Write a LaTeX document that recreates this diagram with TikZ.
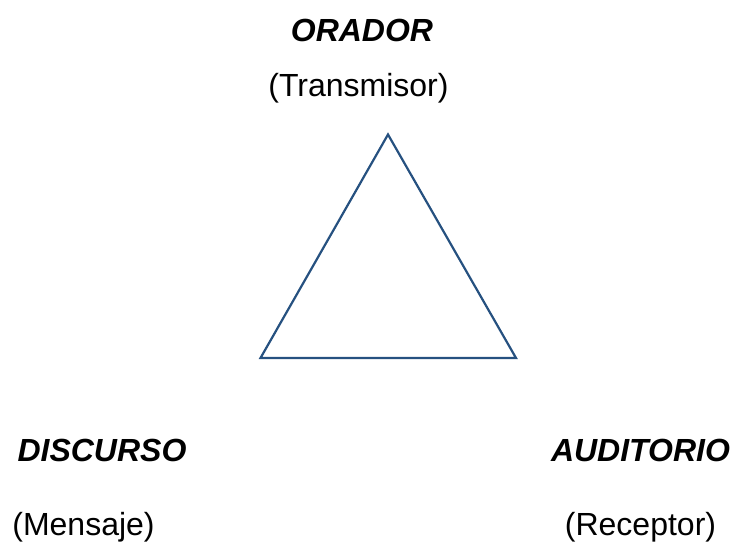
\documentclass[tikz,border=0pt]{standalone}
\usepackage{fontspec}
\setmainfont{Liberation Sans}
\definecolor{tri}{RGB}{38,81,128}
\begin{document}
\begin{tikzpicture}[x=1pt,y=-1pt,
  lbl/.style={font=\fontsize{32}{38}\selectfont\bfseries\itshape, anchor=base, inner sep=0pt},
  sub/.style={font=\fontsize{32}{38}\selectfont, anchor=base, inner sep=0pt}]
\useasboundingbox (0,0) rectangle (733,547);
\coordinate (top) at (388,134.5);
\coordinate (bl) at (260.5,358);
\coordinate (br) at (516,358);
\draw[tri, line width=2.2pt, line join=miter] (top) -- (bl) -- (br) -- cycle;
\node[lbl] (orador) at (362,41.5) {ORADOR};
\node[sub] (trans) at (358.5,96) {(Transmisor)};
\node[lbl] (disc) at (102,461.5) {DISCURSO};
\node[sub] (mens) at (83.5,535) {(Mensaje)};
\node[lbl] (aud) at (640.5,461.5) {AUDITORIO};
\node[sub] (rec) at (640.5,535) {(Receptor)};
\end{tikzpicture}
\end{document}
